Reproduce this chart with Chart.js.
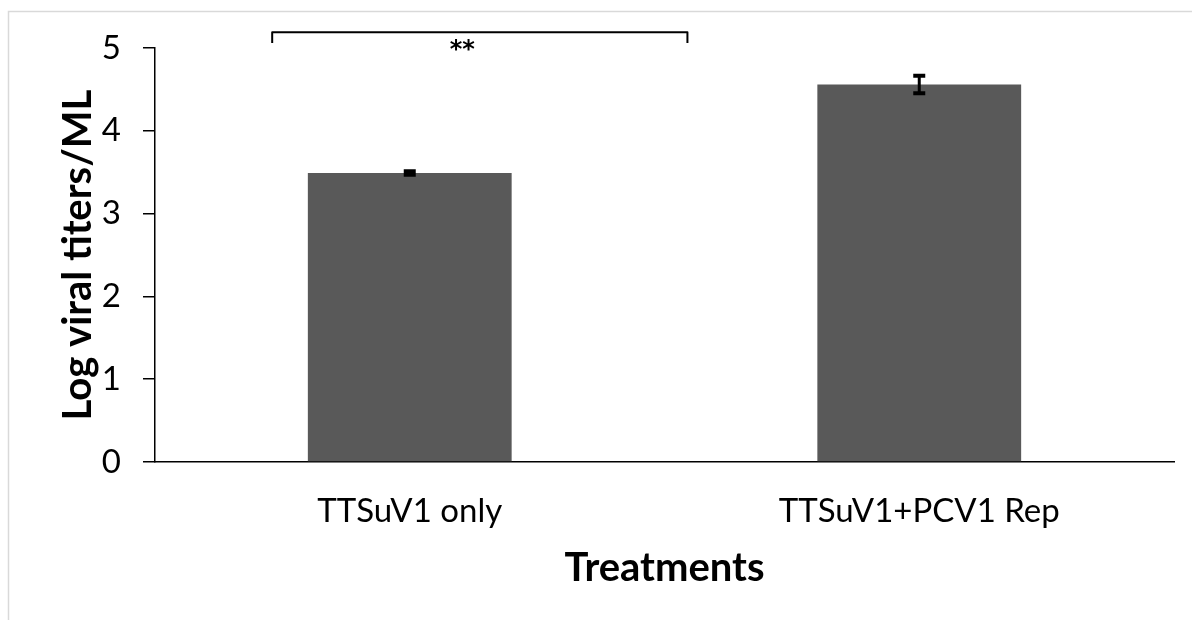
<!DOCTYPE html>
<html>
<head>
<meta charset="utf-8">
<script src="https://cdn.jsdelivr.net/npm/chart.js@4/dist/chart.umd.min.js"></script>
<style>
  html, body { margin: 0; padding: 0; background: #ffffff; }
  #wrap { position: relative; width: 1192px; height: 620px; }
</style>
</head>
<body>
<div id="wrap"><canvas id="c" width="1192" height="620"></canvas></div>
<script>
// Treatment groups and measured titres (log10 per mL) with standard errors
const treatments = ['TTSuV1 only', 'TTSuV1+PCV1 Rep'];
const logTiters = [3.49, 4.56];
const titerErrors = [0.02, 0.105];
const yTicks = [0, 1, 2, 3, 4, 5];

// Significance bracket between the groups (category units / value units)
const bracketFrom = -0.27;
const bracketTo = 0.545;
const bracketTop = 5.19;
const bracketLeg = 5.06;
const starsAt = 0.103;
const starsLabel = '**';

const FONT = 'Lato, "Open Sans", sans-serif';

// Light frame around the figure
const framePlugin = {
  id: 'frame',
  beforeDraw(chart) {
    const ctx = chart.ctx;
    ctx.save();
    ctx.strokeStyle = '#d9d9d9';
    ctx.lineWidth = 1.5;
    ctx.beginPath();
    ctx.moveTo(8.5, chart.height + 5);
    ctx.lineTo(8.5, 11.5);
    ctx.lineTo(chart.width + 5, 11.5);
    ctx.stroke();
    ctx.restore();
  }
};

// Error bars drawn from the dataset values
const errorBarPlugin = {
  id: 'errorBars',
  afterDatasetsDraw(chart) {
    const ctx = chart.ctx;
    const meta = chart.getDatasetMeta(0);
    const ys = chart.scales.y;
    ctx.save();
    ctx.strokeStyle = '#000';
    ctx.lineCap = 'butt';
    meta.data.forEach((bar, i) => {
      const v = logTiters[i], e = titerErrors[i];
      const yHi = ys.getPixelForValue(v + e);
      const yLo = ys.getPixelForValue(v - e);
      const x = bar.x, hw = 6;
      ctx.lineWidth = 3;
      ctx.beginPath();
      ctx.moveTo(x, yHi); ctx.lineTo(x, yLo);
      ctx.stroke();
      ctx.lineWidth = 4;
      ctx.beginPath();
      ctx.moveTo(x - hw, yHi); ctx.lineTo(x + hw, yHi);
      ctx.moveTo(x - hw, yLo); ctx.lineTo(x + hw, yLo);
      ctx.stroke();
    });
    ctx.restore();
  }
};

// Significance bracket with stars
const bracketPlugin = {
  id: 'bracket',
  afterDraw(chart) {
    const ctx = chart.ctx;
    const xs = chart.scales.x, ys = chart.scales.y;
    const x1 = xs.getPixelForValue(bracketFrom);
    const x2 = xs.getPixelForValue(bracketTo);
    const yt = ys.getPixelForValue(bracketTop);
    const yl = ys.getPixelForValue(bracketLeg);
    ctx.save();
    ctx.strokeStyle = '#000';
    ctx.lineWidth = 2;
    ctx.lineJoin = 'round';
    ctx.beginPath();
    ctx.moveTo(x1, yl); ctx.lineTo(x1, yt); ctx.lineTo(x2, yt); ctx.lineTo(x2, yl);
    ctx.stroke();
    ctx.fillStyle = '#000';
    ctx.font = 'bold 24px "DejaVu Sans", sans-serif';
    ctx.textAlign = 'center';
    ctx.textBaseline = 'middle';
    ctx.fillText(starsLabel, xs.getPixelForValue(starsAt), yt + 18);
    ctx.restore();
  }
};

new Chart(document.getElementById('c'), {
  type: 'bar',
  data: {
    labels: treatments,
    datasets: [{
      data: logTiters,
      backgroundColor: '#595959',
      borderWidth: 0,
      barPercentage: 0.4,
      categoryPercentage: 1.0
    }]
  },
  options: {
    responsive: false,
    devicePixelRatio: 1,
    animation: false,
    layout: { padding: { left: 8, top: 48, right: 18, bottom: 0 } },
    plugins: { legend: { display: false }, tooltip: { enabled: false } },
    scales: {
      x: {
        grid: { display: false },
        border: { display: true, color: '#000', width: 1.5 },
        ticks: { color: '#000', font: { family: FONT, size: 33 }, padding: 22 },
        title: {
          display: true, text: 'Treatments', color: '#000',
          font: { family: FONT, size: 40, weight: 'bold' },
          padding: { top: 8, bottom: 28 }
        },
        afterFit(scale) { scale.height = 158; }
      },
      y: {
        min: 0, max: 5,
        afterBuildTicks(scale) { scale.ticks = yTicks.map(v => ({ value: v })); },
        grid: { drawOnChartArea: false, drawTicks: true, tickLength: 12, color: '#000', lineWidth: 1.5 },
        border: { display: true, color: '#000', width: 1.5 },
        ticks: { color: '#000', font: { family: FONT, size: 33 }, padding: 22 },
        title: {
          display: true, text: 'Log viral titers/ML', color: '#000',
          font: { family: FONT, size: 40, weight: 'bold' },
          padding: { top: 46, bottom: 0 }
        },
        afterFit(scale) { scale.width = 147; }
      }
    }
  },
  plugins: [framePlugin, errorBarPlugin, bracketPlugin]
});
</script>
</body>
</html>
